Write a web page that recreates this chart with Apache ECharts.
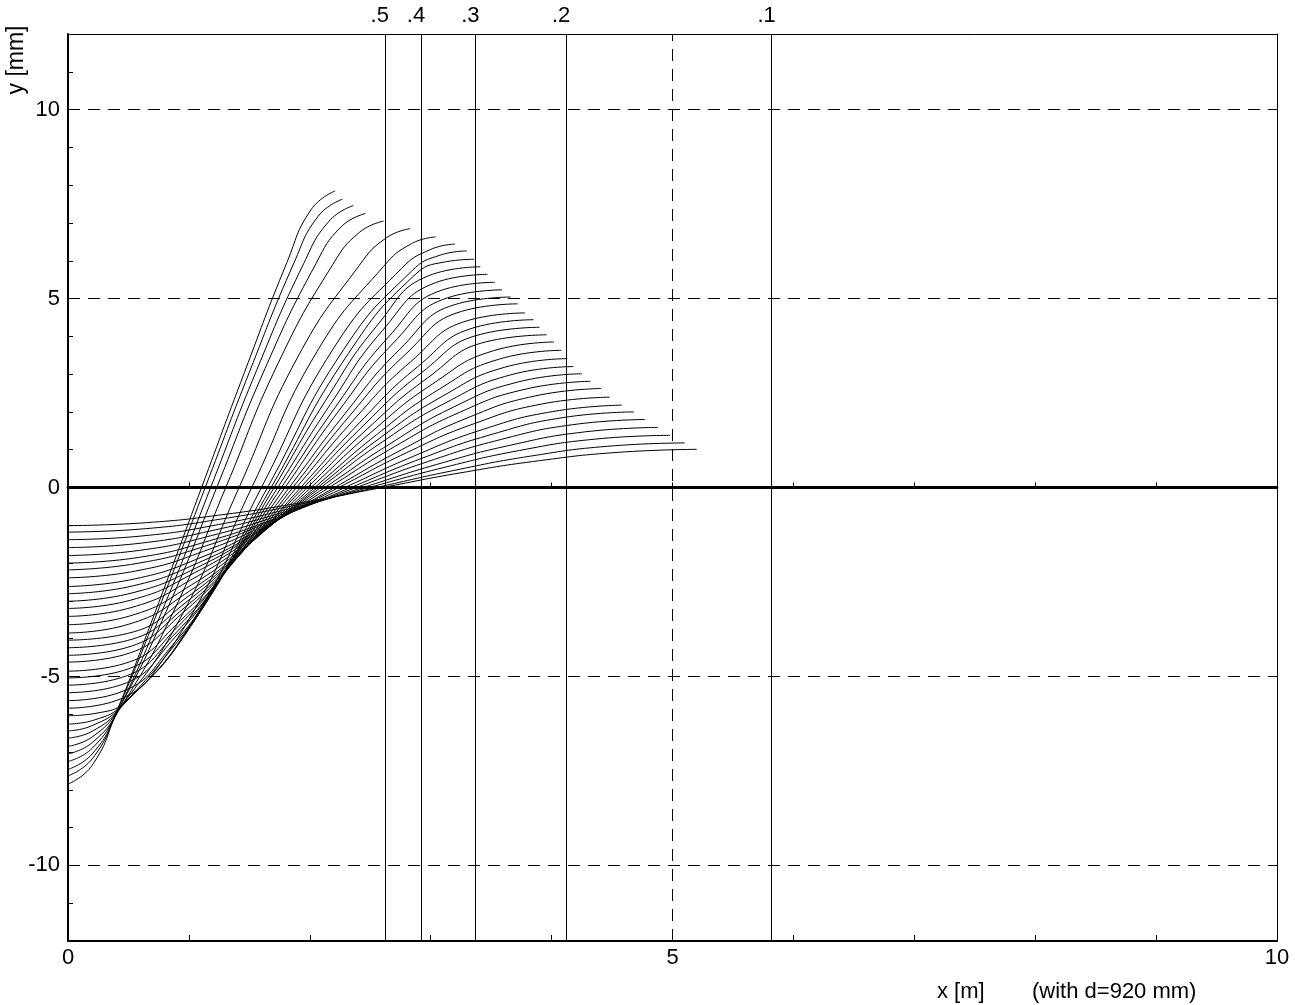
<!DOCTYPE html>
<html><head><meta charset="utf-8">
<script src="https://cdn.jsdelivr.net/npm/echarts@6.0.0/dist/echarts.min.js"></script>
<style>html,body{margin:0;padding:0;background:#fff}#c{width:1297px;height:1005px}</style>
</head><body><div id="c"></div>
<script>
const xTickLabels = [0, 5, 10];
const yTickLabels = [-10, -5, 0, 5, 10];
const gridYValues = [-10, -5, 5, 10];
const gridXValues = [5];
const conicityLabels = ['.5', '.4', '.3', '.2', '.1'];
const conicityX = [2.62, 2.92, 3.37, 4.12, 5.82];

const curve01 = [[0,-7.85],[0.2,-7.35],[0.4,-5.95],[0.75,-3.05],[1.105,0],[1.46,3.05],[1.81,5.95],[2.01,7.35],[2.21,7.85]];
const curve02 = [[0,-7.63],[0.2,-7.18],[0.4,-5.95],[0.77,-3.05],[1.135,0],[1.5,3.05],[1.87,5.95],[2.07,7.18],[2.27,7.63]];
const curve03 = [[0,-7.46],[0.2,-7.05],[0.41,-5.93],[0.8,-3.1],[1.18,0],[1.56,3.1],[1.95,5.93],[2.16,7.05],[2.36,7.46]];
const curve04 = [[0,-7.25],[0.2,-6.9],[0.41,-5.92],[0.83,-3.15],[1.23,0],[1.63,3.15],[2.05,5.92],[2.26,6.9],[2.46,7.25]];
const curve05 = [[0,-7.05],[0.2,-6.75],[0.42,-5.9],[0.87,-3.3],[1.305,0],[1.74,3.3],[2.19,5.9],[2.41,6.75],[2.61,7.05]];
const curve06 = [[0,-6.85],[0.2,-6.6],[0.42,-5.88],[0.93,-3.45],[1.415,0],[1.9,3.45],[2.41,5.88],[2.63,6.6],[2.83,6.85]];
const curve07 = [[0,-6.63],[0.2,-6.45],[0.43,-5.85],[0.98,-3.6],[1.52,0],[2.06,3.6],[2.61,5.85],[2.84,6.45],[3.04,6.63]];
const curve08 = [[0,-6.44],[0.2,-6.3],[0.44,-5.8],[1.0,-3.7],[1.6,0],[2.2,3.7],[2.76,5.8],[3.0,6.3],[3.2,6.44]];
const curve09 = [[0,-6.26],[0.22,-6.15],[0.46,-5.72],[1.02,-3.65],[1.65,0],[2.28,3.65],[2.84,5.72],[3.08,6.15],[3.3,6.26]];
const curve10 = [[0,-6.04],[0.24,-5.97],[0.5,-5.6],[1.04,-3.55],[1.68,0],[2.32,3.55],[2.86,5.6],[3.12,5.97],[3.36,6.04]];
const curve11 = [[0,-5.84],[0.43,-5.60],[0.85,-4.30],[1.28,-2.30],[1.705,0],[2.13,2.30],[2.56,4.30],[2.98,5.60],[3.41,5.84]];
const curve12 = [[0,-5.64],[0.43,-5.42],[0.87,-4.15],[1.30,-2.20],[1.735,0],[2.17,2.20],[2.60,4.15],[3.04,5.42],[3.47,5.64]];
const curve13 = [[0,-5.43],[0.44,-5.22],[0.88,-3.98],[1.32,-2.12],[1.765,0],[2.21,2.12],[2.65,3.98],[3.09,5.22],[3.53,5.43]];
const curve14 = [[0,-5.23],[0.45,-5.02],[0.90,-3.82],[1.35,-2.03],[1.795,0],[2.24,2.03],[2.69,3.82],[3.14,5.02],[3.59,5.23]];
const curve15 = [[0,-5.04],[0.46,-4.84],[0.915,-3.66],[1.37,-1.95],[1.83,0],[2.29,1.95],[2.745,3.66],[3.20,4.84],[3.66,5.04]];
const curve16 = [[0,-4.86],[0.465,-4.66],[0.93,-3.52],[1.395,-1.88],[1.86,0],[2.325,1.88],[2.79,3.52],[3.255,4.66],[3.72,4.86]];
const curve17 = [[0,-4.62],[0.47,-4.42],[0.945,-3.33],[1.42,-1.78],[1.89,0],[2.36,1.78],[2.835,3.33],[3.31,4.42],[3.78,4.62]];
const curve18 = [[0,-4.44],[0.48,-4.24],[0.96,-3.19],[1.44,-1.71],[1.925,0],[2.41,1.71],[2.89,3.19],[3.37,4.24],[3.85,4.44]];
const curve19 = [[0,-4.24],[0.49,-4.05],[0.975,-3.04],[1.46,-1.63],[1.95,0],[2.44,1.63],[2.925,3.04],[3.41,4.05],[3.90,4.24]];
const curve20 = [[0,-4.04],[0.495,-3.86],[0.99,-2.89],[1.485,-1.55],[1.98,0],[2.475,1.55],[2.97,2.89],[3.465,3.86],[3.96,4.04]];
const curve21 = [[0,-3.85],[0.50,-3.62],[1.005,-2.74],[1.51,-1.47],[2.01,0],[2.51,1.47],[3.015,2.74],[3.52,3.62],[4.02,3.85]];
const curve22 = [[0,-3.63],[0.51,-3.40],[1.02,-2.58],[1.53,-1.39],[2.04,0],[2.55,1.39],[3.06,2.58],[3.57,3.40],[4.08,3.63]];
const curve23 = [[0,-3.41],[0.52,-3.18],[1.03,-2.42],[1.55,-1.31],[2.065,0],[2.58,1.31],[3.10,2.42],[3.61,3.18],[4.13,3.41]];
const curve24 = [[0,-3.20],[0.52,-2.98],[1.045,-2.26],[1.57,-1.23],[2.09,0],[2.61,1.23],[3.135,2.26],[3.66,2.98],[4.18,3.20]];
const curve25 = [[0,-3.01],[0.53,-2.79],[1.06,-2.13],[1.59,-1.15],[2.125,0],[2.66,1.15],[3.19,2.13],[3.72,2.79],[4.25,3.01]];
const curve26 = [[0,-2.81],[0.54,-2.60],[1.08,-1.99],[1.62,-1.08],[2.16,0],[2.70,1.08],[3.24,1.99],[3.78,2.60],[4.32,2.81]];
const curve27 = [[0,-2.62],[0.55,-2.42],[1.10,-1.85],[1.65,-1.00],[2.205,0],[2.76,1.00],[3.31,1.85],[3.86,2.42],[4.41,2.62]];
const curve28 = [[0,-2.39],[0.56,-2.21],[1.12,-1.69],[1.68,-0.92],[2.24,0],[2.80,0.92],[3.36,1.69],[3.92,2.21],[4.48,2.39]];
const curve29 = [[0,-2.18],[0.57,-2.01],[1.145,-1.54],[1.72,-0.83],[2.29,0],[2.86,0.83],[3.435,1.54],[4.01,2.01],[4.58,2.18]];
const curve30 = [[0,-2.00],[0.585,-1.85],[1.17,-1.41],[1.755,-0.77],[2.34,0],[2.925,0.77],[3.51,1.41],[4.095,1.85],[4.68,2.00]];
const curve31 = [[0,-1.80],[0.60,-1.66],[1.19,-1.27],[1.79,-0.69],[2.385,0],[2.98,0.69],[3.58,1.27],[4.17,1.66],[4.77,1.80]];
const curve32 = [[0,-1.59],[0.61,-1.47],[1.22,-1.12],[1.83,-0.61],[2.44,0],[3.05,0.61],[3.66,1.12],[4.27,1.47],[4.88,1.59]];
const curve33 = [[0,-1.38],[0.62,-1.28],[1.245,-0.98],[1.87,-0.53],[2.49,0],[3.11,0.53],[3.735,0.98],[4.36,1.28],[4.98,1.38]];
const curve34 = [[0,-1.18],[0.64,-1.09],[1.275,-0.83],[1.91,-0.45],[2.55,0],[3.19,0.45],[3.825,0.83],[4.46,1.09],[5.10,1.18]];
const curve35 = [[0,-1.01],[0.65,-0.93],[1.30,-0.71],[1.95,-0.39],[2.60,0],[3.25,0.39],[3.90,0.71],[4.55,0.93],[5.20,1.01]];

const curveList = [curve01,curve02,curve03,curve04,curve05,curve06,curve07,curve08,curve09,curve10,
  curve11,curve12,curve13,curve14,curve15,curve16,curve17,curve18,curve19,curve20,
  curve21,curve22,curve23,curve24,curve25,curve26,curve27,curve28,curve29,curve30,
  curve31,curve32,curve33,curve34,curve35];

const FONT = '"Liberation Sans", Arial, sans-serif';
const chart = echarts.init(document.getElementById('c'), null, {renderer: 'canvas'});

const curveSeries = curveList.map((d, i) => ({
  type: 'line', name: 'c' + (i + 1), data: d, xAxisIndex: 0, yAxisIndex: 0,
  symbol: 'none', smooth: 0.5, silent: true, z: 5,
  lineStyle: {color: '#000', width: 1}
}));

const gridSeries = {
  type: 'line', data: [], xAxisIndex: 0, yAxisIndex: 0, silent: true,
  markLine: {
    silent: true, symbol: 'none', animation: false,
    label: {show: false},
    lineStyle: {color: '#000', width: 1, type: [12, 8]},
    emphasis: {disabled: true},
    data: gridYValues.map(v => ({yAxis: v})).concat(gridXValues.map(v => ({xAxis: v})))
  }
};

const conicitySeries = {
  type: 'line', data: [], xAxisIndex: 0, yAxisIndex: 0, silent: true,
  markLine: {
    silent: true, symbol: 'none', animation: false,
    lineStyle: {color: '#000', width: 1, type: 'solid'},
    emphasis: {disabled: true},
    label: {show: true, position: 'end', distance: 7, color: '#000', fontSize: 22,
            fontFamily: FONT, padding: [0, 10, 0, 0]},
    data: conicityX.map((x, i) => ({xAxis: x, label: {formatter: conicityLabels[i]}}))
  }
};

chart.setOption({
  animation: false,
  backgroundColor: '#fff',
  grid: {left: 68, right: 20, top: 34, bottom: 64},
  xAxis: [
    {type: 'value', min: 0, max: 10, interval: 1, position: 'bottom',
     axisLine: {onZero: false, lineStyle: {color: '#000', width: 2}},
     axisTick: {inside: true, length: 6, lineStyle: {color: '#000', width: 1}},
     axisLabel: {formatter: v => (xTickLabels.indexOf(v) >= 0 ? String(v) : ''), color: '#000',
                 fontSize: 22, fontFamily: FONT, margin: 6},
     splitLine: {show: false}},
    {type: 'value', min: 0, max: 10, interval: 1, position: 'top',
     axisLine: {onZero: false, lineStyle: {color: '#000', width: 1}},
     axisTick: {show: false}, axisLabel: {show: false}, splitLine: {show: false}},
    {type: 'value', min: 0, max: 10, interval: 1, position: 'bottom',
     axisLine: {onZero: true, onZeroAxisIndex: 0, lineStyle: {color: '#000', width: 2.8}},
     axisTick: {inside: true, length: 5, lineStyle: {color: '#000', width: 1}},
     axisLabel: {show: false}, splitLine: {show: false}}
  ],
  yAxis: [
    {type: 'value', min: -12, max: 12, interval: 1, position: 'left',
     axisLine: {onZero: false, lineStyle: {color: '#000', width: 2}},
     axisTick: {inside: true, length: 5, lineStyle: {color: '#000', width: 1}},
     axisLabel: {formatter: v => (yTickLabels.indexOf(v) >= 0 ? String(v) : ''), color: '#000',
                 fontSize: 22, fontFamily: FONT, margin: 8},
     splitLine: {show: false}},
    {type: 'value', min: -12, max: 12, interval: 1, position: 'right',
     axisLine: {onZero: false, lineStyle: {color: '#000', width: 1}},
     axisTick: {show: false}, axisLabel: {show: false}, splitLine: {show: false}}
  ],
  graphic: [
    {type: 'text', x: 17, y: 60, rotation: Math.PI / 2,
     style: {text: 'y [mm]', font: '23px ' + FONT, fill: '#000', align: 'center', verticalAlign: 'middle',
             textAlign: 'center', textVerticalAlign: 'middle'}},
    {type: 'text', x: 937, y: 992,
     style: {text: 'x [m]', font: '22px ' + FONT, fill: '#000', align: 'left', verticalAlign: 'middle',
             textAlign: 'left', textVerticalAlign: 'middle'}},
    {type: 'text', x: 1032, y: 992,
     style: {text: '(with d=920 mm)', font: '22px ' + FONT, fill: '#000', align: 'left', verticalAlign: 'middle',
             textAlign: 'left', textVerticalAlign: 'middle'}}
  ],
  series: [gridSeries, conicitySeries].concat(curveSeries)
});
</script>
</body></html>
